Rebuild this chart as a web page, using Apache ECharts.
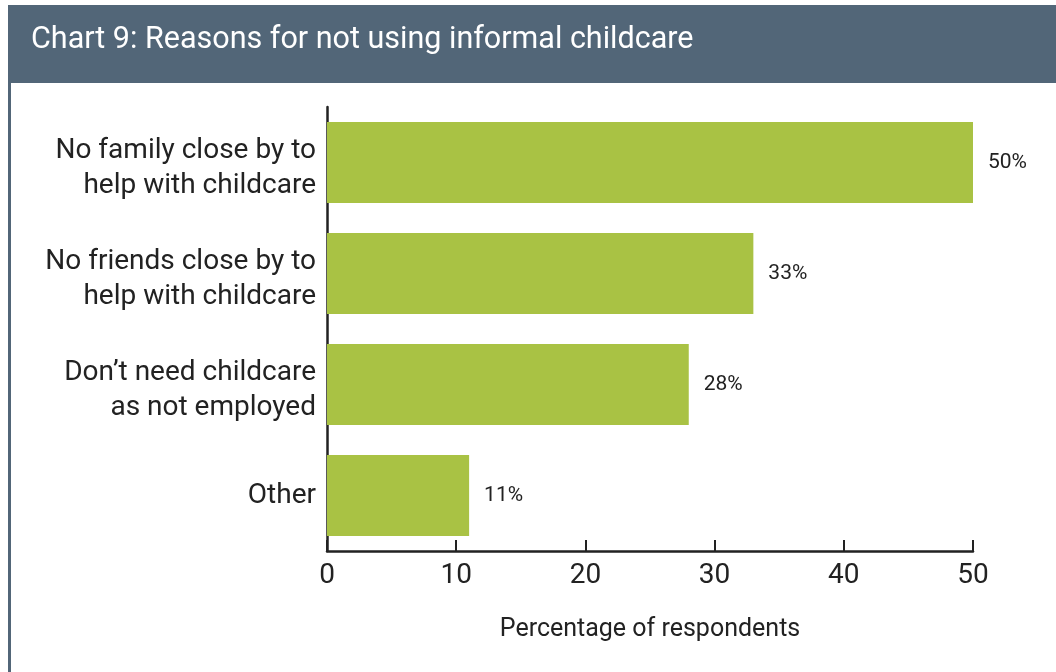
<!DOCTYPE html>
<html>
<head>
<meta charset="utf-8">
<script src="https://cdn.jsdelivr.net/npm/echarts@6/dist/echarts.min.js"></script>
<style>
  html, body { margin: 0; padding: 0; background: #ffffff; }
  #chart { width: 1056px; height: 672px; }
</style>
</head>
<body>
<div id="chart"></div>
<script>
// Reasons listed top to bottom
const categories = [
  'No family close by to\nhelp with childcare',
  'No friends close by to\nhelp with childcare',
  'Don\u2019t need childcare\nas not employed',
  'Other'
];
// Percentage of respondents, in the same order
const values = [50, 33, 28, 11];
const xTicks = [0, 10, 20, 30, 40, 50];

const titleText = 'Chart 9: Reasons for not using informal childcare';
const axisTitle = 'Percentage of respondents';

const FONT = 'Roboto, "Liberation Sans", sans-serif';
const BAND = '#526678';
const INK = '#222222';

// two-line labels: both lines padded so the pair sits a little below the tick
function categoryLabel(v) {
  const lines = v.split('\n');
  if (lines.length < 2) return '{b|' + v + '}';
  return lines.map(l => '{pad|' + l + '}').join('\n');
}

const chart = echarts.init(document.getElementById('chart'), null, { renderer: 'canvas' });

chart.setOption({
  backgroundColor: '#ffffff',
  animation: false,
  graphic: [
    // header band
    { type: 'rect', left: 8, top: 5, shape: { width: 1048, height: 78 }, style: { fill: BAND }, silent: true },
    // left frame rule
    { type: 'rect', left: 8, top: 83, shape: { width: 3, height: 589 }, style: { fill: BAND }, silent: true },
    {
      type: 'text', left: 31, top: 25,
      style: { text: titleText, fill: '#ffffff', font: '30.5px ' + FONT }
    }
  ],
  grid: { left: 327, right: 83, top: 107, bottom: 121, containLabel: false },
  xAxis: {
    type: 'value',
    min: xTicks[0],
    max: xTicks[xTicks.length - 1],
    interval: 10,
    name: axisTitle,
    nameLocation: 'middle',
    nameGap: 66,
    nameTextStyle: { color: INK, fontSize: 25, fontFamily: FONT },
    splitLine: { show: false },
    axisLine: { show: true, lineStyle: { color: INK, width: 2.5 } },
    axisTick: { show: true, inside: true, length: 11, lineStyle: { color: INK, width: 2 } },
    axisLabel: { color: INK, fontSize: 28, fontFamily: FONT, margin: 11 }
  },
  yAxis: {
    type: 'category',
    inverse: true,
    data: categories,
    axisLine: { show: true, lineStyle: { color: INK, width: 2.5 } },
    axisTick: { show: true, inside: true, alignWithLabel: true, length: 15, lineStyle: { color: INK, width: 2 } },
    axisLabel: {
      color: INK, fontSize: 28, fontFamily: FONT, margin: 11, lineHeight: 35, align: 'right',
      formatter: categoryLabel,
      rich: {
        pad: { color: INK, fontSize: 28, fontFamily: FONT, lineHeight: 35, padding: [12, 0, 0, 0], align: 'right' },
        b: { color: INK, fontSize: 28, fontFamily: FONT, lineHeight: 35, align: 'right' }
      }
    },
    splitLine: { show: false }
  },
  series: [{
    type: 'bar',
    data: values,
    barCategoryGap: '27%',
    itemStyle: { color: '#a9c244' },
    label: {
      show: true,
      position: 'right',
      distance: 15,
      formatter: '{c}%',
      color: INK,
      fontSize: 21,
      fontFamily: FONT
    }
  }]
});
</script>
</body>
</html>
